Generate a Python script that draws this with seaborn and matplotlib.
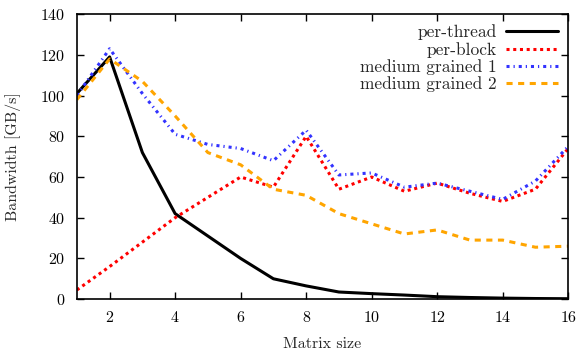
import numpy as np
import pandas as pd
import matplotlib
matplotlib.use("Agg")
import matplotlib.pyplot as plt
import seaborn as sns

# values
matrix_size = list(range(1, 17))
per_thread = [101, 119, 72, 42, 31, 20, 10, 6.5, 3.5, 2.7, 2, 1.2, 0.8, 0.5, 0.3, 0.2]
per_block = [4.5, 16, 28, 40, 50, 60, 55, 80, 54, 60, 53, 57, 52, 48, 54, 74]
medium_1 = [100, 123, 101, 81, 76, 74, 68, 83, 61, 62, 55, 57, 53, 49, 58, 75]
medium_2 = [98, 118, 107, 90, 72, 66, 54, 51, 42, 37, 32, 34, 29, 29, 25.5, 26]

series_names = ["per-thread", "per-block", "medium grained 1", "medium grained 2"]
colors = ["black", "red", "#3333ff", "orange"]
styles = ["-", (0, (1, 1.2)), (0, (1, 1.3, 0.4, 1.3)), (0, (2, 1.8))]
widths = [2.2, 2.2, 2.2, 2.2]

df = pd.DataFrame({
    "size": matrix_size * 4,
    "bw": per_thread + per_block + medium_1 + medium_2,
    "series": sum([[n] * len(matrix_size) for n in series_names], []),
})

sns.set_style("ticks")
plt.rcParams["font.family"] = ["cmr10", "DejaVu Serif"]
plt.rcParams["axes.formatter.use_mathtext"] = True

fig = plt.figure(figsize=(5.78, 3.54), dpi=100)
ax = fig.add_axes([0.133, 0.155, 0.85, 0.805])

for name, c, ls, lw in zip(series_names, colors, styles, widths):
    sns.lineplot(data=df[df["series"] == name], x="size", y="bw", ax=ax,
                 color=c, linestyle=ls, linewidth=lw, label=name)

ax.set_xlim(1, 16)
ax.set_ylim(0, 140)
ax.set_xticks(range(2, 17, 2))
ax.set_yticks(range(0, 141, 20))
ax.tick_params(direction="in", top=True, right=True, length=5, width=1,
               labelsize=11.5, colors="black", pad=8)
for s in ax.spines.values():
    s.set_linewidth(1.2)
    s.set_color("black")
ax.set_xlabel("Matrix size", fontsize=11.5, labelpad=9)
ax.set_ylabel("Bandwidth [GB/s]", fontsize=11.5, labelpad=14)

leg = ax.legend(loc="upper right", frameon=False, markerfirst=False, fontsize=12.5,
                handlelength=3.0, labelspacing=0.08, borderaxespad=0.2,
                handletextpad=0.5)

fig.savefig("out.png", dpi=100)
